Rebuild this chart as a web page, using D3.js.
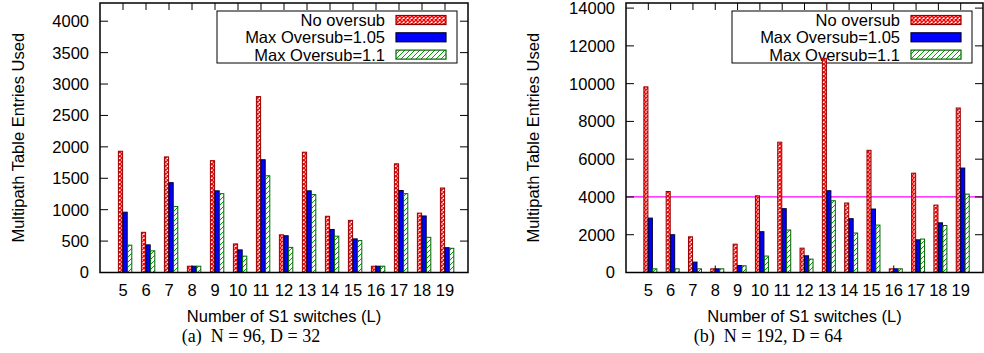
<!DOCTYPE html>
<html lang="en">
<head>
<meta charset="UTF-8">
<title>Multipath table entries</title>
<script src="https://d3js.org/d3.v7.min.js"></script>
<style>
  body { margin: 0; background: #fff; }
  svg text { font-family: "Liberation Sans", Arial, sans-serif; font-size: 16.5px; fill: #000; }
  svg text.caption { font-family: "Liberation Serif", serif; font-size: 18px; }
</style>
</head>
<body>
<div id="chart"></div>
<script>
// number of S1 switches (L)
var switches = [5, 6, 7, 8, 9, 10, 11, 12, 13, 14, 15, 16, 17, 18, 19];

// (a) N = 96, D = 32
var noOversub96 = [1930, 640, 1840, 100, 1780, 455, 2800, 600, 1915, 895, 830, 100, 1730, 945, 1345];
var oversub105_96 = [960, 440, 1430, 100, 1300, 360, 1795, 585, 1300, 685, 535, 100, 1305, 900, 395];
var oversub11_96 = [435, 345, 1050, 100, 1255, 260, 1540, 400, 1240, 578, 508, 100, 1255, 560, 385];
var yTicks96 = [0, 500, 1000, 1500, 2000, 2500, 3000, 3500, 4000];

// (b) N = 192, D = 64
var noOversub192 = [9830, 4290, 1890, 195, 1500, 4060, 6900, 1290, 11340, 3680, 6470, 195, 5260, 3570, 8710];
var oversub105_192 = [2880, 2000, 550, 195, 370, 2160, 3380, 885, 4330, 2850, 3360, 195, 1730, 2630, 5530];
var oversub11_192 = [195, 195, 195, 195, 355, 870, 2250, 710, 3800, 2090, 2510, 195, 1770, 2490, 4150];
var yTicks192 = [0, 2000, 4000, 6000, 8000, 10000, 12000, 14000];
var limit192 = 4000;

var seriesNames = ["No oversub", "Max Oversub=1.05", "Max Oversub=1.1"];

var svg = d3.select("#chart").append("svg")
    .attr("width", 984)
    .attr("height", 353);

// fill patterns like gnuplot's
var defs = svg.append("defs");
var cross = defs.append("pattern")
    .attr("id", "cross")
    .attr("patternUnits", "userSpaceOnUse")
    .attr("width", 4).attr("height", 4);
cross.append("rect").attr("width", 4).attr("height", 4).attr("fill", "#fff");
cross.append("path").attr("d", "M0,0L4,4M4,0L0,4")
    .attr("stroke", "#ff0000").attr("stroke-width", 1.4);

var hatch = defs.append("pattern")
    .attr("id", "hatch")
    .attr("patternUnits", "userSpaceOnUse")
    .attr("width", 5).attr("height", 5);
hatch.append("rect").attr("width", 5).attr("height", 5).attr("fill", "#fff");
hatch.append("path").attr("d", "M-1,6L6,-1M-1,1L1,-1M4,6L6,4")
    .attr("stroke", "#00a000").attr("stroke-width", 1);

var styles = [
    {fill: "url(#cross)", stroke: "#990000"},
    {fill: "#0000ff", stroke: "#000030"},
    {fill: "url(#hatch)", stroke: "#006400"}
];

function drawPanel(opt) {
    var left = opt.left, right = opt.right, top = 3, bottom = 272.5;

    var x = d3.scaleLinear().domain([4, 20]).range([left, right]);
    var y = d3.scaleLinear().domain([0, opt.yMax]).range([bottom, top]);

    var g = svg.append("g");

    // legend (bars are drawn over it)
    var lg = g.append("g");
    var lx = right - 11 - 240;
    lg.append("rect")
        .attr("x", lx).attr("y", 11)
        .attr("width", 240).attr("height", 52)
        .attr("fill", "#fff").attr("stroke", "#000").attr("stroke-width", 1);
    seriesNames.forEach(function(name, i) {
        var cy = 20 + i * 17.3;
        lg.append("text")
            .attr("x", right - 11 - 72).attr("y", cy)
            .attr("dy", "0.36em")
            .attr("text-anchor", "end")
            .text(name);
        lg.append("rect")
            .attr("x", right - 11 - 61).attr("y", cy - 4.5)
            .attr("width", 50).attr("height", 9)
            .attr("fill", styles[i].fill)
            .attr("stroke", styles[i].stroke).attr("stroke-width", 1.2);
    });

    // bottom and top ticks
    switches.forEach(function(s) {
        g.append("line").attr("x1", x(s)).attr("x2", x(s))
            .attr("y1", bottom).attr("y2", bottom - 7)
            .attr("stroke", "#000");
        g.append("line").attr("x1", x(s)).attr("x2", x(s))
            .attr("y1", top).attr("y2", top + 7)
            .attr("stroke", "#000");
    });

    if (opt.limit) {
        g.append("line")
            .attr("x1", left).attr("x2", right)
            .attr("y1", y(opt.limit)).attr("y2", y(opt.limit))
            .attr("stroke", "#ff00ff").attr("stroke-width", 1.2);
    }

    // bars
    var offsets = [-0.2, 0, 0.2];
    opt.series.forEach(function(vals, i) {
        g.selectAll(null)
            .data(vals)
            .enter()
            .append("rect")
            .attr("x", function(d, j) { return x(switches[j] + offsets[i]); })
            .attr("width", x(4.2) - x(4) - 0.4)
            .attr("y", function(d) { return y(d); })
            .attr("height", function(d) { return bottom - y(d); })
            .attr("fill", styles[i].fill)
            .attr("stroke", styles[i].stroke)
            .attr("stroke-width", 1);
    });

    // y ticks (left and mirrored on right)
    opt.yTicks.forEach(function(t) {
        g.append("line").attr("x1", left).attr("x2", left + 8)
            .attr("y1", y(t)).attr("y2", y(t)).attr("stroke", "#000");
        g.append("line").attr("x1", right).attr("x2", right - 8)
            .attr("y1", y(t)).attr("y2", y(t)).attr("stroke", "#000");
        g.append("text")
            .attr("x", left - 11).attr("y", y(t))
            .attr("dy", "0.36em")
            .attr("text-anchor", "end")
            .text(t);
    });

    // x tick labels
    g.selectAll(null)
        .data(switches)
        .enter()
        .append("text")
        .attr("x", function(d) { return x(d); })
        .attr("y", 296)
        .attr("text-anchor", "middle")
        .text(function(d) { return d; });

    // frame
    g.append("rect")
        .attr("x", left).attr("y", top)
        .attr("width", right - left).attr("height", bottom - top)
        .attr("fill", "none").attr("stroke", "#000").attr("stroke-width", 1.5);

    // axis titles
    g.append("text")
        .attr("transform", "translate(" + opt.yLabelX + "," + ((top + bottom) / 2) + ") rotate(-90)")
        .attr("dy", "0.36em")
        .attr("text-anchor", "middle")
        .text("Multipath Table Entries Used");
    g.append("text")
        .attr("x", (left + right) / 2).attr("y", 322)
        .attr("text-anchor", "middle")
        .text("Number of S1 switches (L)");
    g.append("text")
        .attr("class", "caption")
        .attr("x", opt.captionX).attr("y", 342)
        .attr("text-anchor", "middle")
        .attr("xml:space", "preserve")
        .text(opt.caption);
}

drawPanel({
    left: 100, right: 468, yMax: 4290,
    yTicks: yTicks96,
    series: [noOversub96, oversub105_96, oversub11_96],
    yLabelX: 18, captionX: 251,
    caption: "(a)  N = 96, D = 32"
});

drawPanel({
    left: 626, right: 983, yMax: 14270,
    yTicks: yTicks192,
    series: [noOversub192, oversub105_192, oversub11_192],
    limit: limit192,
    yLabelX: 533, captionX: 768,
    caption: "(b)  N = 192, D = 64"
});
</script>
</body>
</html>
